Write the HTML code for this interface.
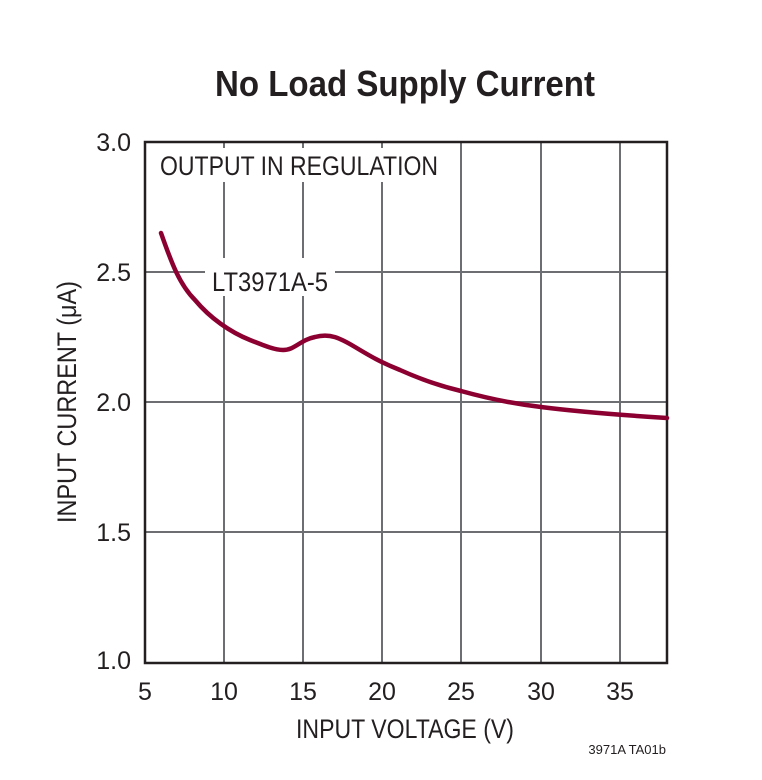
<!DOCTYPE html>
<html><head><meta charset="utf-8"><style>
body{margin:0;background:#fff}
svg text{font-family:"Liberation Sans Narrow","Liberation Sans",sans-serif;fill:#231f20}
</style></head><body>
<svg width="762" height="775" viewBox="0 0 762 775" xmlns="http://www.w3.org/2000/svg">
<rect width="762" height="775" fill="#fff"/>
<text x="405" y="96" font-size="36" font-weight="bold" text-anchor="middle" textLength="380" lengthAdjust="spacingAndGlyphs">No Load Supply Current</text>
<g stroke="#6d6e71" stroke-width="2">
<line x1="224" y1="142" x2="224" y2="663"/><line x1="303" y1="142" x2="303" y2="663"/>
<line x1="382" y1="142" x2="382" y2="663"/><line x1="461" y1="142" x2="461" y2="663"/>
<line x1="541" y1="142" x2="541" y2="663"/><line x1="620" y1="142" x2="620" y2="663"/>
<line x1="145" y1="272" x2="667" y2="272"/><line x1="145" y1="402" x2="667" y2="402"/>
<line x1="145" y1="532" x2="667" y2="532"/>
</g>
<rect x="155" y="148" width="290" height="34" fill="#fff"/>
<rect x="205" y="258" width="130" height="38" fill="#fff"/>
<rect x="145" y="142" width="522" height="521" fill="none" stroke="#231f20" stroke-width="2.5"/>
<text x="160" y="175" font-size="27" textLength="278" lengthAdjust="spacingAndGlyphs">OUTPUT IN REGULATION</text>
<text x="212" y="291" font-size="27" textLength="116" lengthAdjust="spacingAndGlyphs">LT3971A-5</text>
<path d="M161,233 C170,258 178,283 195,300 C210,318 230,332 250,340 C265,346 275,350 283,350 C295,350 300,340 315,337 C330,333 340,338 355,347 C370,356 380,362 400,370 C420,379 440,386 461,391 C490,399 515,404 541,407 C580,412 620,415 667,418" fill="none" stroke="#8b0030" stroke-width="4.5" stroke-linecap="round"/>
<g font-size="25" text-anchor="end">
<text x="131" y="151">3.0</text><text x="131" y="281">2.5</text><text x="131" y="411">2.0</text>
<text x="131" y="541">1.5</text><text x="131" y="669">1.0</text>
</g>
<g font-size="25" text-anchor="middle">
<text x="145" y="700">5</text><text x="224" y="700">10</text><text x="303" y="700">15</text>
<text x="382" y="700">20</text><text x="461" y="700">25</text><text x="541" y="700">30</text><text x="620" y="700">35</text>
</g>
<text x="405" y="738" font-size="27" text-anchor="middle" textLength="218" lengthAdjust="spacingAndGlyphs">INPUT VOLTAGE (V)</text>
<text transform="translate(76,402) rotate(-90)" font-size="27" text-anchor="middle" textLength="242" lengthAdjust="spacingAndGlyphs">INPUT CURRENT (μA)</text>
<text x="666" y="754" font-size="13" text-anchor="end">3971A TA01b</text>
</svg>
</body></html>
